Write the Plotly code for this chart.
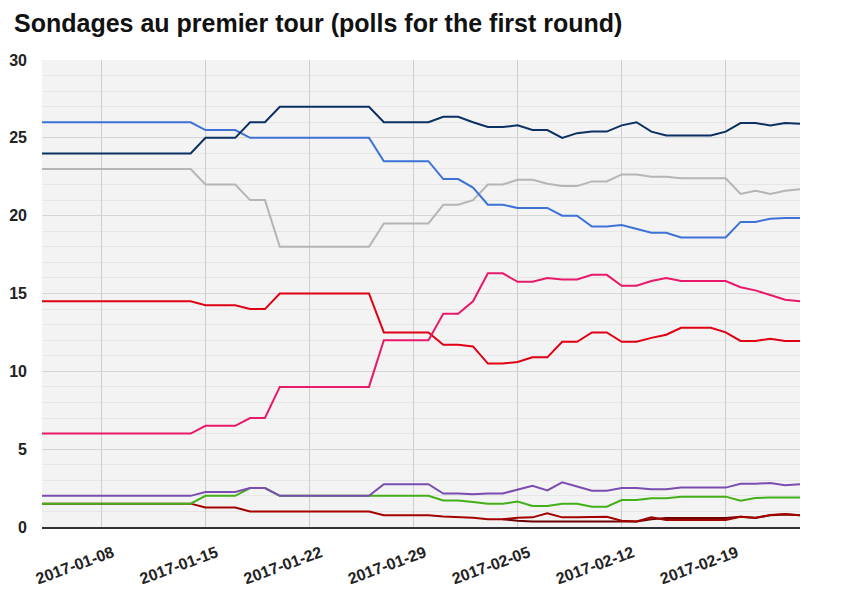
import plotly.graph_objects as go

dates = ["2017-01-04", "2017-01-14", "2017-01-15", "2017-01-17", "2017-01-18",
         "2017-01-19", "2017-01-20", "2017-01-26", "2017-01-27", "2017-01-30",
         "2017-01-31", "2017-02-01", "2017-02-02", "2017-02-03", "2017-02-04",
         "2017-02-05", "2017-02-06", "2017-02-07", "2017-02-08", "2017-02-09",
         "2017-02-10", "2017-02-11", "2017-02-12", "2017-02-13", "2017-02-14",
         "2017-02-15", "2017-02-16", "2017-02-17", "2017-02-18", "2017-02-19",
         "2017-02-20", "2017-02-21", "2017-02-22", "2017-02-23", "2017-02-24"]

navy = [24, 24, 25, 25, 26, 26, 27, 27, 26, 26,
        26.35, 26.35, 26.0, 25.7, 25.7, 25.8, 25.5, 25.5, 25.0, 25.3,
        25.4, 25.4, 25.8, 26.0, 25.4, 25.15, 25.15, 25.15, 25.15, 25.4,
        25.95, 25.95, 25.8, 25.95, 25.9]
blue = [26, 26, 25.5, 25.5, 25, 25, 25, 25, 23.5, 23.5,
        22.35, 22.35, 21.8, 20.7, 20.7, 20.5, 20.5, 20.5, 20.0, 20.0,
        19.3, 19.3, 19.4, 19.15, 18.9, 18.9, 18.6, 18.6, 18.6, 18.6,
        19.6, 19.6, 19.8, 19.85, 19.85]
grey = [23, 23, 22, 22, 21, 21, 18, 18, 19.5, 19.5,
        20.7, 20.7, 21.0, 22.0, 22.0, 22.3, 22.3, 22.05, 21.9, 21.9,
        22.2, 22.2, 22.65, 22.65, 22.5, 22.5, 22.4, 22.4, 22.4, 22.4,
        21.4, 21.6, 21.4, 21.6, 21.7]
pink = [6, 6, 6.5, 6.5, 7, 7, 9, 9, 12, 12,
        13.7, 13.7, 14.5, 16.3, 16.3, 15.75, 15.75, 16.0, 15.9, 15.9,
        16.2, 16.2, 15.5, 15.5, 15.8, 16.0, 15.8, 15.8, 15.8, 15.8,
        15.4, 15.2, 14.9, 14.6, 14.5]
red = [14.5, 14.5, 14.25, 14.25, 14, 14, 15, 15, 12.5, 12.5,
       11.7, 11.7, 11.6, 10.5, 10.5, 10.6, 10.9, 10.9, 11.9, 11.9,
       12.5, 12.5, 11.9, 11.9, 12.15, 12.35, 12.8, 12.8, 12.8, 12.5,
       11.95, 11.95, 12.1, 11.95, 11.95]
purple = [2, 2, 2.25, 2.25, 2.5, 2.5, 2, 2, 2.75, 2.75,
          2.15, 2.15, 2.1, 2.15, 2.15, 2.4, 2.65, 2.35, 2.87, 2.6,
          2.33, 2.33, 2.5, 2.5, 2.42, 2.42, 2.53, 2.53, 2.53, 2.53,
          2.78, 2.78, 2.83, 2.68, 2.74]
green = [1.5, 1.5, 2, 2, 2.5, 2.5, 2, 2, 2, 2,
         1.7, 1.7, 1.6, 1.5, 1.5, 1.63, 1.35, 1.35, 1.5, 1.5,
         1.3, 1.3, 1.73, 1.73, 1.84, 1.84, 1.95, 1.95, 1.95, 1.95,
         1.69, 1.86, 1.9, 1.9, 1.9]
maroon = [1.5, 1.5, 1.25, 1.25, 1, 1, 1, 1, 0.75, 0.75,
          0.68, 0.66, 0.6, 0.5, 0.5, 0.6, 0.62, 0.88, 0.62, 0.62,
          0.66, 0.66, 0.4, 0.35, 0.62, 0.45, 0.45, 0.45, 0.45, 0.45,
          0.66, 0.58, 0.77, 0.84, 0.75]
darkred = [None, None, None, None, None, None, None, None, None, None,
           None, None, None, None, 0.5, 0.4, 0.35, 0.35, 0.35, 0.35,
           0.35, 0.35, 0.38, 0.35, 0.5, 0.58, 0.58, 0.58, 0.58, 0.58,
           0.66, 0.6, 0.75, 0.8, 0.75]

series = [
    ("darkred", darkred, "#6e0000"),
    ("maroon", maroon, "#a30000"),
    ("green", green, "#43b01a"),
    ("purple", purple, "#7a4db0"),
    ("red", red, "#e00012"),
    ("pink", pink, "#e8196a"),
    ("grey", grey, "#b5b5b5"),
    ("blue", blue, "#3d72d6"),
    ("navy", navy, "#0b3162"),
]

fig = go.Figure()
for name, vals, col in series:
    fig.add_trace(go.Scatter(x=dates, y=vals, mode="lines", name=name,
                             line=dict(color=col, width=2), showlegend=False,
                             hoverinfo="x+y"))

fig.update_layout(
    width=861, height=607,
    margin=dict(l=34, r=69, t=52, b=88),
    paper_bgcolor="white",
    plot_bgcolor="#f3f3f3",
    font=dict(family="Liberation Sans, Arial, sans-serif", color="#222"),
    title=dict(text="Sondages au premier tour (polls for the first round)",
               x=6 / 861, xanchor="left", xref="container",
               y=1 - 6 / 607, yanchor="top", yref="container",
               font=dict(size=25, weight="bold", color="#111")),
    xaxis=dict(type="date", range=["2017-01-04", "2017-02-24"],
               tick0="2017-01-08", dtick=7 * 86400000, tickformat="%Y-%m-%d",
               tickangle=-20, tickfont=dict(size=16, weight="bold", color="#222"),
               ticklabelshift=11, ticklabelstandoff=9,
               showgrid=True, gridcolor="#cdcdcd", gridwidth=1,
               showline=True, linecolor="#333", linewidth=1.5,
               zeroline=False, ticks="", automargin=False),
    yaxis=dict(range=[0, 30], dtick=5, tick0=0,
               tickfont=dict(size=16, weight="bold", color="#222"),
               showgrid=True, gridcolor="#d6d6d6", gridwidth=1,
               minor=dict(dtick=1, showgrid=True, gridcolor="#e6e6e6", gridwidth=1),
               zeroline=False, showline=False, ticks="", ticklabelstandoff=14,
               automargin=False),
)

fig.add_annotation(text="<b>Sites web</b>", xref="paper", yref="paper",
                   x=-34 / 758, y=-75 / 467, xanchor="left", yanchor="top",
                   showarrow=False, font=dict(size=15, color="#222"))

fig.write_html("out.html")
